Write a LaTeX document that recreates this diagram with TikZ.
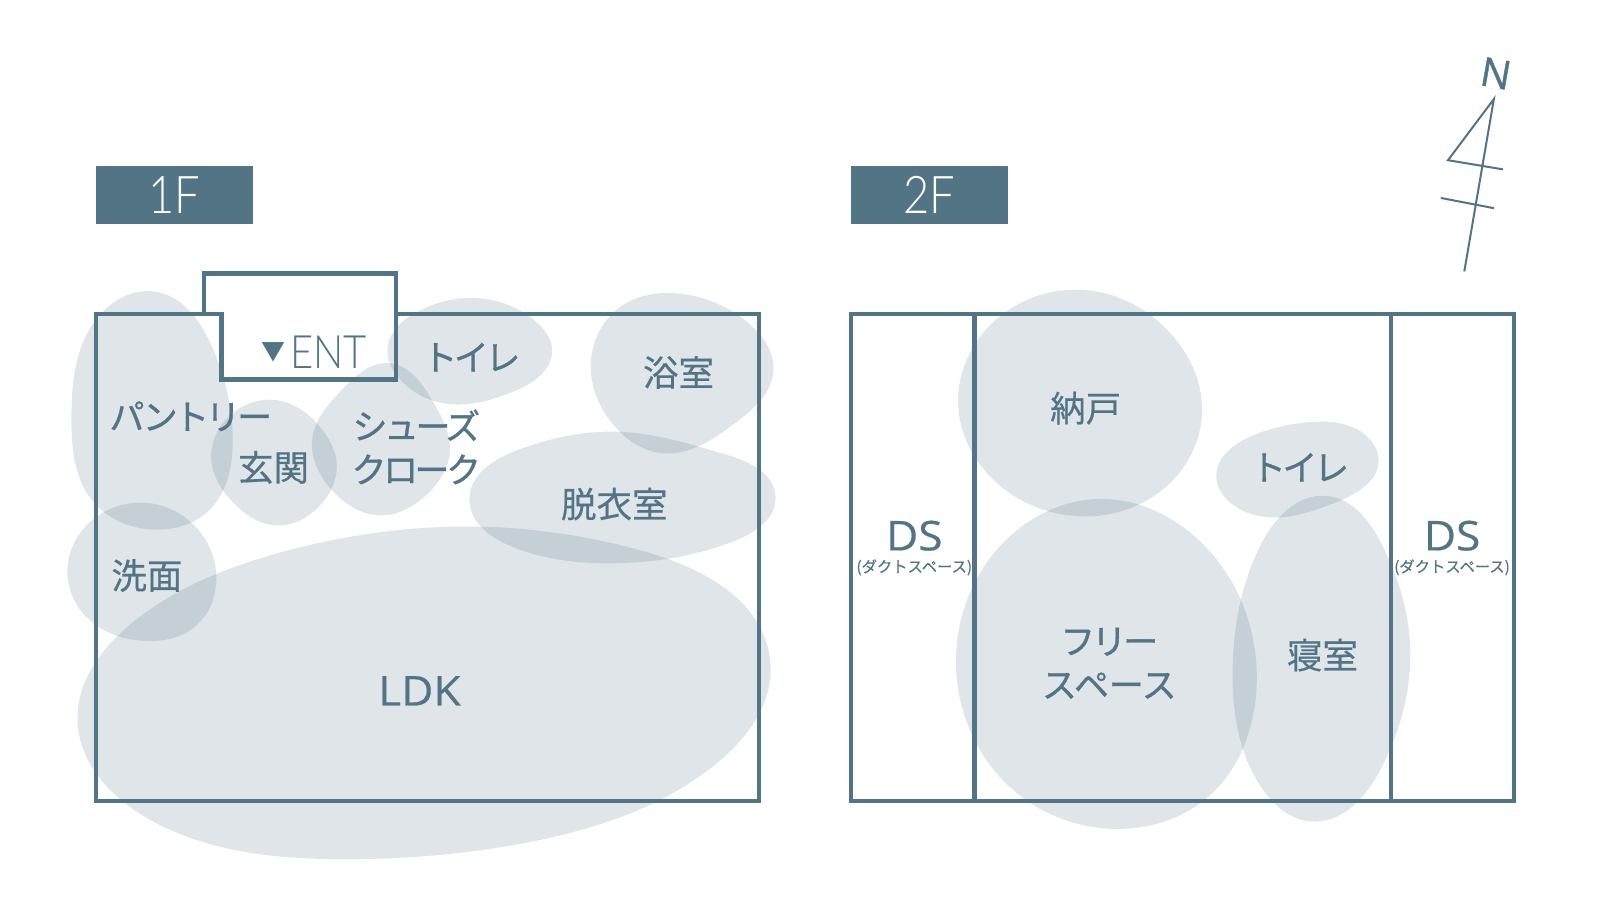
\documentclass[tikz,border=0pt]{standalone}
\usetikzlibrary{hobby}
\usepackage{fontspec}
\setmainfont{Noto Sans CJK JP}
\newfontfamily\midfont{Noto Sans CJK JP}[FakeBold=0.45]
\newfontfamily\kanafont{Noto Sans CJK JP}[FakeBold=0.9,LetterSpace=-10]
\newfontfamily\kanawide{Noto Sans CJK JP}[FakeBold=0.9,LetterSpace=-1]
\newfontfamily\smallfont{Noto Sans CJK JP}[FakeBold=0.3]
\newfontfamily\latinfont{Open Sans}[FakeBold=0.5,FakeStretch=1.08]
\newfontfamily\northfont{Open Sans}[FakeBold=1.0]
\newfontfamily\thinfont{Lato Light}[FakeStretch=0.87]
\definecolor{wall}{HTML}{537485}
\tikzset{
  blob/.style={fill=wall,fill opacity=0.19,draw=none,use Hobby shortcut,closed=true},
  wallline/.style={draw=wall,line width=4.3pt,line join=miter},
  northline/.style={draw=wall,line width=2pt},
  lab/.style={text=wall,font=\kanafont\fontsize{35}{43.5}\selectfont,inner sep=0pt,align=center},
  kanjilab/.style={text=wall,font=\midfont\fontsize{35.5}{40}\selectfont,inner sep=0pt},
  biglab/.style={text=wall,font=\latinfont\fontsize{41}{45}\selectfont,inner sep=0pt},
  smalllab/.style={text=wall,font=\smallfont\fontsize{15.3}{18}\selectfont,inner sep=0pt},
  floortag/.style={fill=wall,text=white,minimum width=156.5pt,minimum height=58.5pt,inner sep=0pt,font=\thinfont\fontsize{52}{56}\selectfont},
}
\begin{document}
\begin{tikzpicture}[x=1.0204pt,y=-1.0204pt]
\useasboundingbox (0,0) rectangle (1568,885);
% blobs 1F
\path[blob] (153,286)..(207,338)..(228,430)..(205,500)..(150,519)..(90,490)..(70,410)..(92,316);
\path[blob] (270,392)..(315,420)..(330,455)..(312,497)..(272,515)..(228,492)..(207,450)..(228,405);
\path[blob] (382,356)..(425,395)..(441,440)..(420,483)..(372,505)..(325,480)..(306,430)..(335,382);
\path[blob] (460,292)..(525,315)..(541,342)..(500,385)..(440,396)..(395,375)..(380,340)..(410,305);
\path[blob] (145,493)..(195,520)..(212,565)..(190,615)..(140,628)..(85,605)..(66,560)..(90,510);
\path[blob] (460,516)..(630,540)..(755,650)..(700,750)..(520,825)..(340,842)..(150,805)..(76,705)..(130,610)..(280,540);
\path[blob] (668,288)..(735,318)..(758,362)..(720,415)..(648,444)..(600,415)..(579,362)..(612,298);
\path[blob] (600,423)..(710,445)..(760,487)..(720,530)..(600,552)..(500,535)..(460,490)..(510,440);
% blobs 2F
\path[blob] (1070,285)..(1150,330)..(1178,400)..(1145,475)..(1065,506)..(985,480)..(939,395)..(980,310);
\path[blob] (1280,414)..(1340,428)..(1351,450)..(1310,492)..(1245,507)..(1205,492)..(1192,467)..(1225,428);
\path[blob] (1078,489)..(1170,525)..(1231,680)..(1185,780)..(1085,812)..(1000,780)..(937,655)..(985,530);
\path[blob] (1300,486)..(1355,535)..(1382,635)..(1355,750)..(1285,805)..(1235,770)..(1208,655)..(1235,535);
% walls
\draw[wallline] (200,308) -- (94,308) -- (94,785) -- (744,785) -- (744,308) -- (388,308);
\draw[wallline] (200,308) -- (200,268) -- (388,268) -- (388,372) -- (217,372) -- (217,308) -- (200,308);
\draw[wallline] (834,308) rectangle (1484,785);
\draw[wallline] (955,308) -- (955,785);
\draw[wallline] (1363,308) -- (1363,785);
% north
\draw[northline,line join=miter] (1435,266) -- (1464,97) -- (1419,157) -- (1473,166);
\draw[northline] (1412,194) -- (1464,204);
\node[text=wall,font=\northfont\fontsize{40}{44}\selectfont,inner sep=0pt,rotate=-10] (north) at (1466,72) {N};
% tags
\node[floortag] (f1) at (171,191) {1F};
\node[floortag] (f2) at (911,191) {2F};
% labels
\node[text=wall,font=\fontsize{24}{30}\selectfont,inner sep=0pt] (tri) at (268,345) {▼};
\node[text=wall,font=\thinfont\fontsize{46}{50}\selectfont,inner sep=0pt] (ent) at (322,345) {ENT};
\node[lab] (pantry) at (187,408) {パントリー};
\node[kanjilab] (genkan) at (268,458) {玄関};
\node[lab] (shoes) at (408,438) {シューズ\\クローク};
\node[lab] (wc1) at (462,350) {トイレ};
\node[kanjilab] (bath) at (665,365) {浴室};
\node[kanjilab] (dressing) at (602,494) {脱衣室};
\node[kanjilab] (wash) at (144,564) {洗面};
\node[biglab] (ldk) at (411,677) {LDK};
\node[biglab] (ds1) at (896,525) {DS};
\node[smalllab] (ds1s) at (896,556) {(ダクトスペース)};
\node[biglab] (ds2) at (1423,525) {DS};
\node[smalllab] (ds2s) at (1423,556) {(ダクトスペース)};
\node[kanjilab] (storage) at (1064,400) {納戸};
\node[lab] (wc2) at (1274,458) {トイレ};
\node[lab] (free) at (1087,650) {フリー\\{\kanawide スペース}};
\node[kanjilab] (bed) at (1296,642) {寝室};
\end{tikzpicture}
\end{document}
